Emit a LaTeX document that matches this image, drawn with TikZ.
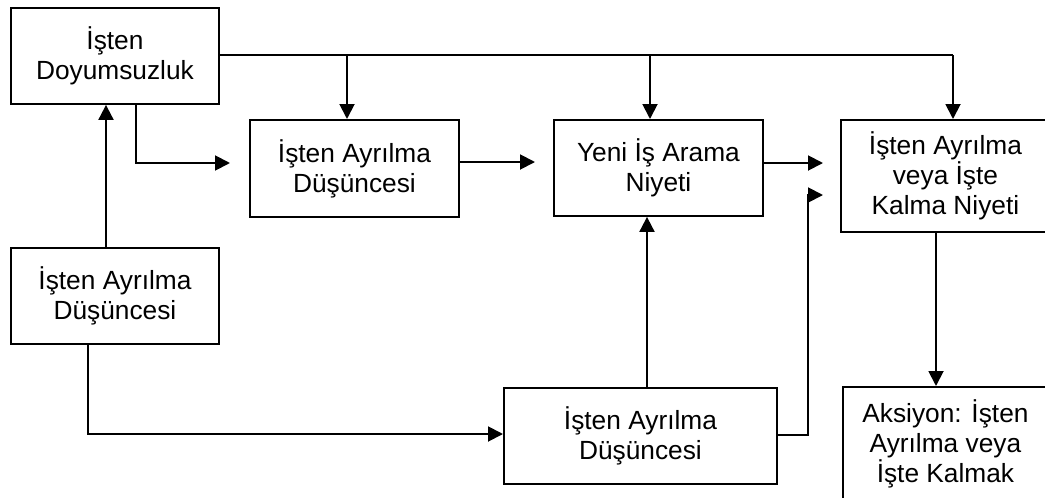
\documentclass[tikz,border=0pt]{standalone}
\usepackage{fontspec}
\setmainfont{Liberation Sans}
\usetikzlibrary{arrows.meta}
\begin{document}
\begin{tikzpicture}[x=0.5pt,y=-0.5pt,
  box/.style={draw, line width=0.95pt, inner sep=0pt, align=center, anchor=north west,
              font=\fontsize{13.15}{15}\selectfont},
  link/.style={line width=0.95pt},
  arr/.style={link, -{Triangle[length=7.5pt,width=7.5pt]}}]
\useasboundingbox (0,0) rectangle (1045,498);
\clip (0,0) rectangle (1045,498);

% boxes
\node[box, minimum width=104pt,   minimum height=48pt]   (A) at (10,7)    {İşten\\Doyumsuzluk};
\node[box, minimum width=104.5pt, minimum height=48.5pt] (B) at (249,119) {İşten Ayrılma\\Düşüncesi};
\node[box, minimum width=104.5pt, minimum height=48pt]   (C) at (553,119) {Yeni İş Arama\\Niyeti};
\node[box, minimum width=104.5pt, minimum height=56pt]   (D) at (840,119) {İşten Ayrılma\\veya İşte\\Kalma Niyeti};
\node[box, minimum width=104pt,   minimum height=48pt]   (E) at (10,247)  {İşten Ayrılma\\Düşüncesi};
\node[box, minimum width=136.5pt, minimum height=48pt]   (F) at (503,387) {İşten Ayrılma\\Düşüncesi};
\node[box, minimum width=102.5pt, minimum height=57pt]   (G) at (842,386) {Aksiyon: İşten\\Ayrılma veya\\İşte Kalmak};

% bend points and free arrow ends
\coordinate (d1) at (347,55);
\coordinate (d2) at (650,55);
\coordinate (d3) at (953,55);
\coordinate (jAB) at (136,163);
\coordinate (tAB) at (230,163);
\coordinate (tBC) at (535,162);
\coordinate (tCD) at (823,163);
\coordinate (jF1) at (808,435);
\coordinate (jF2) at (808,195);
\coordinate (tFD) at (823,195);
\coordinate (u)   at (106,0);
\coordinate (cEF) at (88,434);
\coordinate (v)   at (647,0);
\coordinate (w)   at (936,0);

% top bus from job dissatisfaction
\draw[link] (A.east |- d3) -- (d3);
\draw[arr] (d1) -- (B.north -| d1);
\draw[arr] (d2) -- (C.north -| d2);
\draw[arr] (d3) -- (D.north -| d3);

% main chain
\draw[arr] (A.south -| jAB) -- (jAB) -- (tAB);
\draw[arr] (B.east |- tBC) -- (tBC);
\draw[arr] (C.east |- tCD) -- (tCD);
\draw[arr] (F.east |- jF1) -- (jF1) -- (jF2) -- (tFD);

% lower feedback paths
\draw[arr] (E.north -| u) -- (A.south -| u);
\draw[arr] (E.south -| cEF) -- (cEF) -- (F.west |- cEF);
\draw[arr] (F.north -| v) -- (C.south -| v);
\draw[arr] (D.south -| w) -- (G.north -| w);
\end{tikzpicture}
\end{document}
